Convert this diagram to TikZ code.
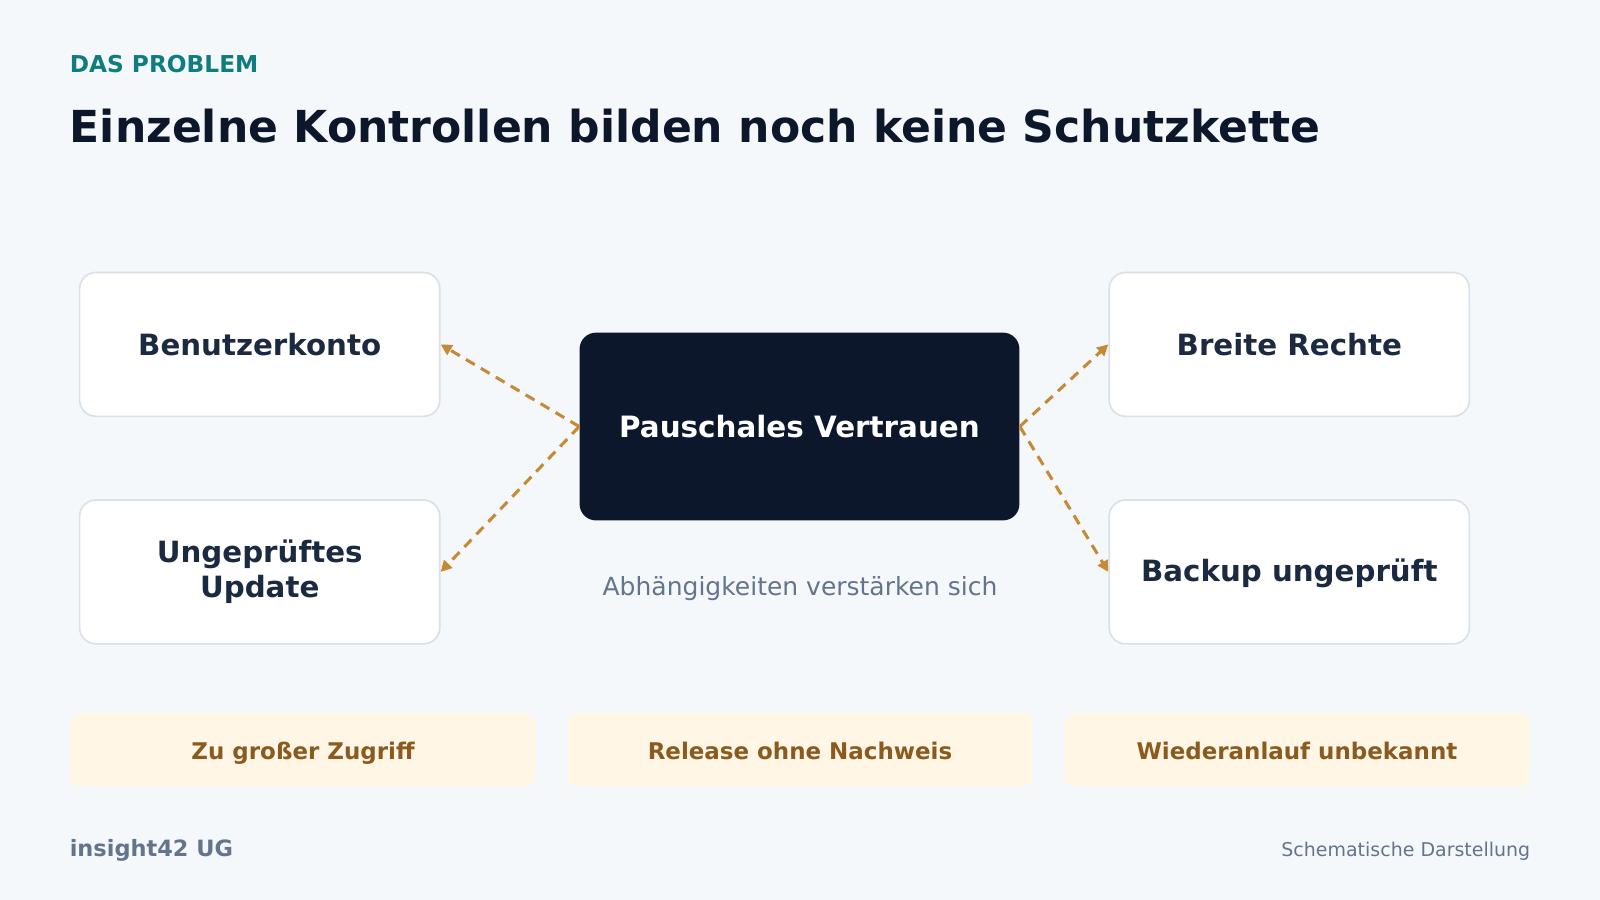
\documentclass[tikz,border=0pt]{standalone}
\usepackage{fontspec}
\setmainfont{DejaVu Sans}
\usetikzlibrary{positioning, arrows.meta, calc}

\definecolor{bgcol}{HTML}{F5F8FB}
\definecolor{navy}{HTML}{0D172B}
\definecolor{boxtext}{HTML}{1B2A40}
\definecolor{boxline}{HTML}{D9E0E8}
\definecolor{teal}{HTML}{0F7C80}
\definecolor{amber}{HTML}{C48A35}
\definecolor{slate}{HTML}{64748B}
\definecolor{cream}{HTML}{FFF6E6}
\definecolor{brown}{HTML}{8A5A1E}

\begin{document}
\begin{tikzpicture}[
    x=0.5pt, y=-0.5pt,
    control/.style={rectangle, draw=boxline, line width=0.8pt, fill=white, rounded corners=8pt, minimum width=176.5pt, minimum height=70.5pt, align=center, font=\bfseries\fontsize{14.35}{17}\selectfont, text=boxtext},
    core/.style={rectangle, fill=navy, rounded corners=8pt, minimum width=215.5pt, minimum height=92pt, font=\bfseries\fontsize{14.4}{17}\selectfont, text=white},
    gap/.style={rectangle, fill=cream, rounded corners=5pt, minimum width=228pt, minimum height=36pt, text height=11pt, text depth=1.7pt, font=\bfseries\fontsize{11.25}{13}\selectfont, text=brown},
    label/.style={inner sep=0pt, text=slate},
    link/.style={draw=amber, line width=1.5pt, dash pattern=on 5pt off 3.5pt, -{Triangle[length=5.5pt, width=5.5pt]}}
]

    % Background
    \fill[bgcol] (0,0) rectangle (1568,882);
    \useasboundingbox (0,0) rectangle (1568,882);

    % Heading
    \node[anchor=base west, inner sep=0pt, font=\bfseries\fontsize{11.4}{13}\selectfont, text=teal] (kicker) at (68,71) {DAS PROBLEM};
    \node[anchor=base west, inner sep=0pt, font=\bfseries\fontsize{21.6}{26}\selectfont, text=navy] (title) at (68,140) {Einzelne Kontrollen bilden noch keine Schutzkette};

    % Nodes
    \node[core] (trust) at (783.5,418) {Pauschales Vertrauen};
    \node[control] (account) at (254.5,337.5) {Benutzerkonto};
    \node[control] (update) at (254.5,560.5) {Ungeprüftes\\Update};
    \node[control] (rights) at (1263.5,337.5) {Breite Rechte};
    \node[control, text depth=1.4pt] (backup) at (1263.5,560.5) {Backup ungeprüft};
    \node[label, font=\fontsize{12.25}{14}\selectfont] (amplify) at (784,577) {Abhängigkeiten verstärken sich};

    % Dependencies
    \draw[link] (trust.west) -- (account.east);
    \draw[link] (trust.west) -- (update.east);
    \draw[link] (trust.east) -- (rights.west);
    \draw[link] (trust.east) -- (backup.west);

    % Consequences
    \node[gap] (access) at (297,735) {Zu großer Zugriff};
    \node[gap] (release) at (784,735) {Release ohne Nachweis};
    \node[gap] (restart) at (1271,735) {Wiederanlauf unbekannt};

    % Footer
    \node[label, anchor=base west, font=\bfseries\fontsize{11}{12}\selectfont] (brand) at (68,839) {insight42 UG};
    \node[label, anchor=base east, font=\fontsize{9.3}{11}\selectfont] (note) at (1500,839) {Schematische Darstellung};

\end{tikzpicture}
\end{document}
